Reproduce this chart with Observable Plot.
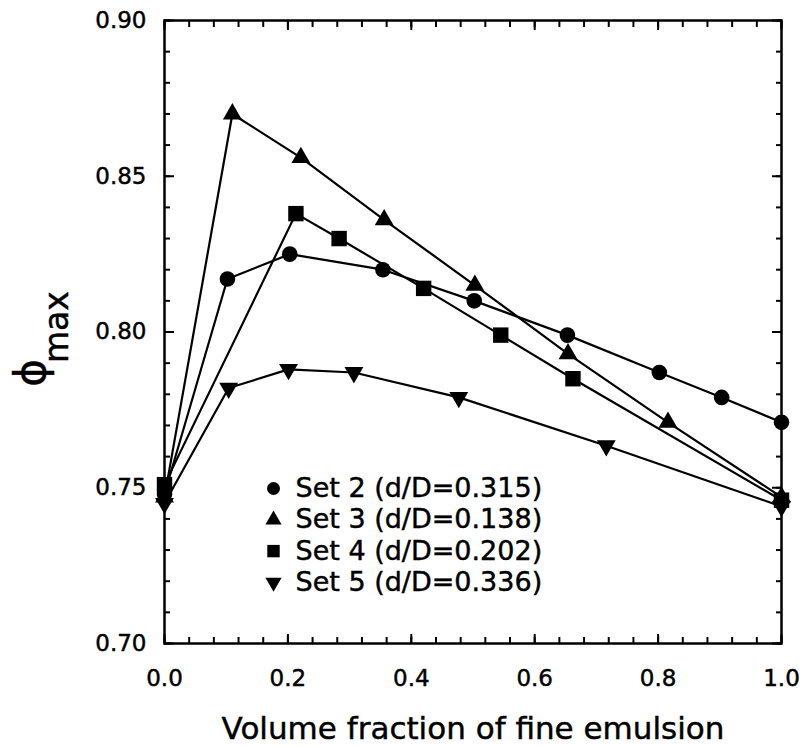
<!DOCTYPE html>
<html>
<head>
<meta charset="utf-8">
<script src="https://cdn.jsdelivr.net/npm/d3@7"></script>
<script src="https://cdn.jsdelivr.net/npm/@observablehq/plot@0.6"></script>
<style>
  body { margin: 0; background: #fff; }
  #chart svg text { stroke: #000; stroke-width: 0.45px; }
</style>
</head>
<body>
<div id="chart"></div>
<script>
// Maximum packing fraction vs. volume fraction of the fine emulsion, four bimodal sets.
const set2Fraction = [0, 0.102, 0.203, 0.354, 0.502, 0.653, 0.802, 0.903, 1.0];
const set2Phi      = [0.748, 0.817, 0.825, 0.820, 0.810, 0.799, 0.787, 0.779, 0.771];

const set3Fraction = [0, 0.110, 0.221, 0.356, 0.503, 0.654, 0.816, 1.0];
const set3Phi      = [0.747, 0.870, 0.856, 0.836, 0.815, 0.793, 0.771, 0.747];

const set4Fraction = [0, 0.213, 0.283, 0.420, 0.545, 0.662, 1.0];
const set4Phi      = [0.751, 0.838, 0.830, 0.814, 0.799, 0.785, 0.746];

const set5Fraction = [0, 0.104, 0.201, 0.307, 0.477, 0.716, 1.0];
const set5Phi      = [0.745, 0.782, 0.788, 0.787, 0.779, 0.7635, 0.744];

const legendLabels = [
  "Set 2 (d/D=0.315)",
  "Set 3 (d/D=0.138)",
  "Set 4 (d/D=0.202)",
  "Set 5 (d/D=0.336)"
];

const xMajorTicks = [0, 0.2, 0.4, 0.6, 0.8, 1.0];
const yMajorTicks = [0.70, 0.75, 0.80, 0.85, 0.90];
const xMinorTicks = d3.range(26).map(i => i * 0.04);
const yMinorTicks = d3.range(21).map(i => 0.70 + i * 0.01);

const xLabel = "Volume fraction of fine emulsion";

// Downward-pointing triangle (d3's triangle flipped)
const triangleDown = {
  draw(context, size) {
    const y = -Math.sqrt(size / (Math.sqrt(3) * 3));
    context.moveTo(0, -y * 2);
    context.lineTo(-Math.sqrt(3) * y, y);
    context.lineTo(Math.sqrt(3) * y, y);
    context.closePath();
  }
};

const series = [
  {name: legendLabels[0], fraction: set2Fraction, phi: set2Phi, symbol: "circle",   r: 7.8, legendR: 6.5},
  {name: legendLabels[1], fraction: set3Fraction, phi: set3Phi, symbol: "triangle", r: 7,   legendR: 6},
  {name: legendLabels[2], fraction: set4Fraction, phi: set4Phi, symbol: "square",   r: 8.7, legendR: 7},
  {name: legendLabels[3], fraction: set5Fraction, phi: set5Phi, symbol: triangleDown, r: 7, legendR: 6}
];

const rows = series.flatMap(s => s.fraction.map((x, i) => ({set: s.name, x, y: s.phi[i]})));

const font = "DejaVu Sans";
const blank = () => "";

const marks = [
  // inward ticks on all four sides
  Plot.axisX({ticks: xMinorTicks, anchor: "bottom", tickSize: -6, tickFormat: blank, label: null, strokeWidth: 2}),
  Plot.axisX({ticks: xMajorTicks, anchor: "bottom", tickSize: -9, tickPadding: 35, tickFormat: d3.format(".1f"), label: null, strokeWidth: 2, fontSize: 23}),
  Plot.axisX({ticks: xMinorTicks, anchor: "top", tickSize: -6, tickFormat: blank, label: null, strokeWidth: 2}),
  Plot.axisX({ticks: xMajorTicks, anchor: "top", tickSize: -9, tickFormat: blank, label: null, strokeWidth: 2}),
  Plot.axisY({ticks: yMinorTicks, anchor: "left", tickSize: -6, tickFormat: blank, label: null, strokeWidth: 2}),
  Plot.axisY({ticks: yMajorTicks, anchor: "left", tickSize: -10, tickPadding: 28, tickFormat: d3.format(".2f"), label: null, strokeWidth: 2, fontSize: 23}),
  Plot.axisY({ticks: yMinorTicks, anchor: "right", tickSize: -6, tickFormat: blank, label: null, strokeWidth: 2}),
  Plot.axisY({ticks: yMajorTicks, anchor: "right", tickSize: -10, tickFormat: blank, label: null, strokeWidth: 2}),
  Plot.frame({stroke: "black", strokeWidth: 2.5}),
  Plot.line(rows, {x: "x", y: "y", z: "set", stroke: "black", strokeWidth: 2.2}),
  ...series.map(s => Plot.dot(rows.filter(d => d.set === s.name), {
    x: "x", y: "y", symbol: s.symbol, r: s.r, fill: "black", stroke: "none"
  })),
  // legend inside the plot area
  ...series.map((s, i) => Plot.dot([s.name], {
    frameAnchor: "top-left", dx: 109, dy: 468 + i * 31.3,
    symbol: s.symbol, r: s.legendR, fill: "black", stroke: "none"
  })),
  ...series.map((s, i) => Plot.text([s.name], {
    frameAnchor: "top-left", dx: 131, dy: 468 + i * 31.3,
    text: d => d, textAnchor: "start", lineAnchor: "middle",
    fontSize: 27, fill: "black"
  })),
  Plot.text([xLabel], {
    frameAnchor: "bottom", dy: 95, text: d => d,
    lineAnchor: "bottom", fontSize: 31, fill: "black"
  })
];

const chart = Plot.plot({
  width: 806,
  height: 747,
  marginLeft: 164,
  marginRight: 25,
  marginTop: 20,
  marginBottom: 104,
  x: {domain: [0, 1], label: null},
  y: {domain: [0.70, 0.90], label: null},
  style: {fontFamily: font, fontSize: "23px", color: "black", background: "white"},
  marks
});

// y-axis title: phi with "max" subscript
const title = d3.select(chart).append("text")
  .attr("transform", "translate(45,339) rotate(-90)")
  .attr("font-family", font)
  .attr("fill", "black");
title.append("tspan").attr("font-size", 42).text("\u03D5");
title.append("tspan").attr("font-size", 33).attr("dy", 23).attr("dx", -4).text("max");

document.getElementById("chart").append(chart);
</script>
</body>
</html>
